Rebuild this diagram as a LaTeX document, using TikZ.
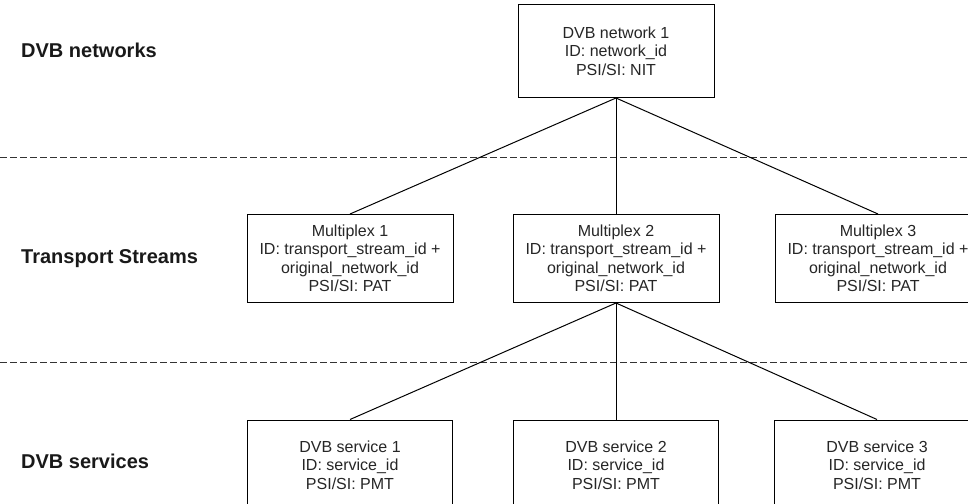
\documentclass[tikz,border=0pt]{standalone}
\usepackage{fontspec}
\setmainfont{Liberation Sans}
\begin{document}
\begin{tikzpicture}[x=1pt,y=-1pt,
  box/.style={draw=black, line width=1pt, align=center, inner sep=0pt,
    font=\fontsize{16}{18.5}\selectfont, text=black!85},
  layer/.style={anchor=base west, font=\bfseries\fontsize{20}{24}\selectfont, inner sep=0pt, text=black!90},
  link/.style={line width=1pt},
  sep/.style={line width=0.8pt, dash pattern=on 6.5pt off 3.5pt, black!80}]
\useasboundingbox (0,0) rectangle (968,503);
\clip (0,0) rectangle (968,503);
\fill[white] (0,0) rectangle (968,503);

% layer labels
\node[layer] (lnet) at (21,57) {DVB networks};
\node[layer] (lts) at (21,263) {Transport Streams};
\node[layer] (lsvc) at (21,468) {DVB services};

% separators
\coordinate (s1l) at (0,157);
\coordinate (s1r) at (968,157);
\coordinate (s2l) at (0,362);
\coordinate (s2r) at (968,362);
\draw[sep] (s1l) -- (s1r);
\draw[sep] (s2l) -- (s2r);

% network
\node[box, minimum width=196, minimum height=93] (net) at (616,51)
  {DVB network 1\\ID: network\_id\\PSI/SI: NIT};

% multiplexes
\node[box, minimum width=206, minimum height=88] (m1) at (350,258.5)
  {Multiplex 1\\ID: transport\_stream\_id +\\original\_network\_id\\PSI/SI: PAT};
\node[box, minimum width=206, minimum height=88] (m2) at (616,258.5)
  {Multiplex 2\\ID: transport\_stream\_id +\\original\_network\_id\\PSI/SI: PAT};
\node[box, minimum width=206, minimum height=88] (m3) at (878,258.5)
  {Multiplex 3\\ID: transport\_stream\_id +\\original\_network\_id\\PSI/SI: PAT};

% services
\node[box, minimum width=205, minimum height=90] (d1) at (350,465)
  {DVB service 1\\ID: service\_id\\PSI/SI: PMT};
\node[box, minimum width=205, minimum height=90] (d2) at (616,465)
  {DVB service 2\\ID: service\_id\\PSI/SI: PMT};
\node[box, minimum width=205, minimum height=90] (d3) at (877,465)
  {DVB service 3\\ID: service\_id\\PSI/SI: PMT};

% connectors
\draw[link] (net.south) -- (m1.north);
\draw[link] (net.south) -- (m2.north);
\draw[link] (net.south) -- (m3.north);
\draw[link] (m2.south) -- (d1.north);
\draw[link] (m2.south) -- (d2.north);
\draw[link] (m2.south) -- (d3.north);
\end{tikzpicture}
\end{document}
